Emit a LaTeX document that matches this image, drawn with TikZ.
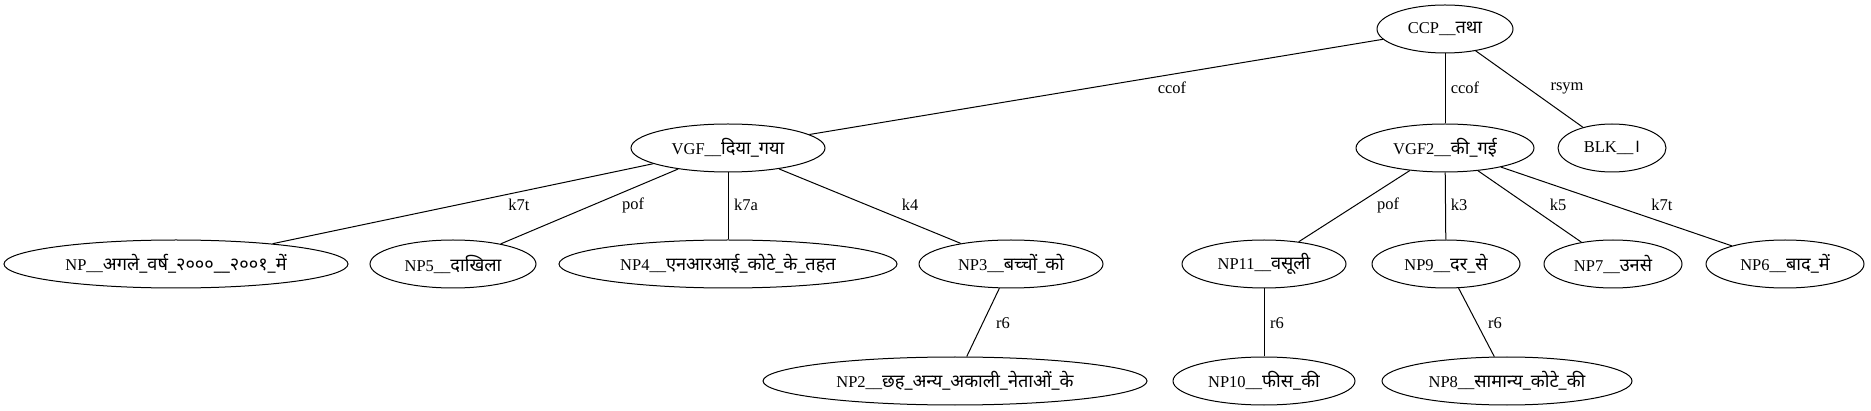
\documentclass[tikz,border=0pt]{standalone}
\usepackage{fontspec}
\setmainfont{Liberation Serif}
\newfontfamily\deva[Script=Devanagari,Scale=1.1]{Noto Sans}
\usetikzlibrary{shapes.geometric}
\begin{document}
\begin{tikzpicture}[ x=1pt, y=-1pt,
      word/.style={ellipse,draw,line width=1pt,inner sep=0,minimum height=48pt,
        font=\fontsize{16.5}{20}\selectfont},
      rel/.style={font=\fontsize{16.5}{20}\selectfont,inner sep=1pt},
      dep/.style={line width=1pt} ]
      \useasboundingbox (0,0) rectangle (1871,411);

      % nodes
      \node[word,minimum width=136pt] (ccp) at (1445,29) {CCP\_\_{\deva तथा}};
      \node[word,minimum width=194pt] (vgf) at (728,148) {VGF\_\_{\deva दिया\_गया}};
      \node[word,minimum width=178pt] (vgftwo) at (1445,148) {VGF2\_\_{\deva की\_गई}};
      \node[word,minimum width=108pt] (blk) at (1612,148) {BLK\_\_{\deva ।}};

      \node[word,minimum width=344pt] (npagle) at (176,264) {NP\_\_{\deva अगले\_वर्ष\_२०००\_\_२००१\_में}};
      \node[word,minimum width=166pt] (npfive) at (453,264) {NP5\_\_{\deva दाखिला}};
      \node[word,minimum width=338pt] (npfour) at (728,264) {NP4\_\_{\deva एनआरआई\_कोटे\_के\_तहत}};
      \node[word,minimum width=184pt] (npthree) at (1011,264) {NP3\_\_{\deva बच्चों\_को}};
      \node[word,minimum width=164pt] (npeleven) at (1264,264) {NP11\_\_{\deva वसूली}};
      \node[word,minimum width=148pt] (npnine) at (1446,264) {NP9\_\_{\deva दर\_से}};
      \node[word,minimum width=138pt] (npseven) at (1613,264) {NP7\_\_{\deva उनसे}};
      \node[word,minimum width=158pt] (npsix) at (1785,264) {NP6\_\_{\deva बाद\_में}};

      \node[word,minimum width=384pt] (nptwo) at (955,381) {NP2\_\_{\deva छह\_अन्य\_अकाली\_नेताओं\_के}};
      \node[word,minimum width=182pt] (npten) at (1264,381) {NP10\_\_{\deva फीस\_की}};
      \node[word,minimum width=250pt] (npeight) at (1507,381) {NP8\_\_{\deva सामान्य\_कोटे\_की}};

      % edges
      \draw [dep] (ccp) -- (vgf);
      \draw [dep] (ccp) -- (vgftwo);
      \draw [dep] (ccp) -- (blk);

      \draw [dep] (vgf) -- (npagle);
      \draw [dep] (vgf) -- (npfive);
      \draw [dep] (vgf) -- (npfour);
      \draw [dep] (vgf) -- (npthree);

      \draw [dep] (vgftwo) -- (npeleven);
      \draw [dep] (vgftwo) -- (npnine);
      \draw [dep] (vgftwo) -- (npseven);
      \draw [dep] (vgftwo) -- (npsix);

      \draw [dep] (npthree) -- (nptwo);
      \draw [dep] (npeleven) -- (npten);
      \draw [dep] (npnine) -- (npeight);

      % labels
      \node[rel] (lccof) at (1172,88) {ccof};
      \node[rel] (lccoftwo) at (1465,88) {ccof};
      \node[rel] (lrsym) at (1567,88) {rsym};

      \node[rel] (lkseventa) at (519,205) {k7t};
      \node[rel] (lpof) at (633,205) {pof};
      \node[rel] (lksevena) at (746,205) {k7a};
      \node[rel] (lkfour) at (910,205) {k4};

      \node[rel] (lpoftwo) at (1388,205) {pof};
      \node[rel] (lkthree) at (1459,205) {k3};
      \node[rel] (lkfive) at (1558,205) {k5};
      \node[rel] (lkseventb) at (1662,205) {k7t};

      \node[rel] (lrsixa) at (1003,323) {r6};
      \node[rel] (lrsixb) at (1277,323) {r6};
      \node[rel] (lrsixc) at (1495,323) {r6};
    \end{tikzpicture}
\end{document}
